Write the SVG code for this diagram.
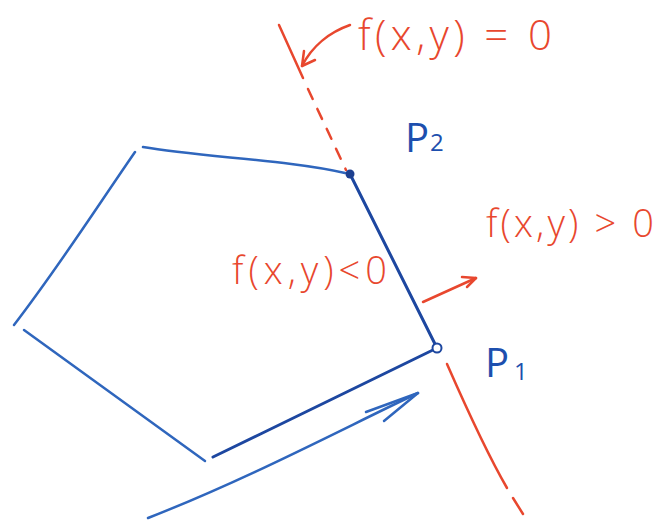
<svg xmlns="http://www.w3.org/2000/svg" width="665" height="520" viewBox="0 0 665 520">
<defs>
<style>
.red{fill:none;stroke:#e8472e;stroke-width:2.5;stroke-linecap:round;stroke-linejoin:round}
.blue{fill:none;stroke:#2f66bd;stroke-width:2.5;stroke-linecap:round;stroke-linejoin:round}
.dblue{fill:none;stroke:#1d47a0;stroke-width:3;stroke-linecap:round;stroke-linejoin:round}
.rt{fill:#e8472e;font-family:"Open Sans","Liberation Sans",sans-serif;font-weight:300}
.bt{fill:#1d4fae;font-family:"Open Sans","Liberation Sans",sans-serif;font-weight:400}
</style>
</defs>
<rect width="665" height="520" fill="#ffffff"/>
<g id="line-f0">
<path class="red" d="M279,25 L303,78" stroke-width="2"/>
<path class="red" d="M308,89 L346,170" stroke-width="2" stroke-dasharray="11,11"/>
<path class="red" d="M447,364 C465,405 485,450 507,488" stroke-width="2"/>
<path class="red" d="M513,498 L523,514" stroke-width="2"/>
</g>
<g id="polygon">
<path class="blue" d="M143,147 C200,157 290,160 345,173"/>
<path class="blue" d="M135,152 C95,210 60,265 14,325"/>
<path class="blue" d="M24,330 L205,461"/>
<path class="dblue" d="M213,457 C290,420 370,380 437,348"/>
<path class="dblue" d="M350,174 L437,348"/>
</g>
<g id="p2">
<circle cx="350" cy="174" r="4.5" fill="#1d3f8f"/>
<text class="bt" x="405" y="152" font-size="40">P</text>
<text class="bt" x="430" y="151" font-size="24">2</text>
</g>
<g id="p1">
<circle cx="437" cy="348" r="4.5" fill="#ffffff" stroke="#1d47a0" stroke-width="2"/>
<text class="bt" x="485" y="377" font-size="40">P</text>
<text class="bt" x="514" y="380" font-size="24">1</text>
</g>
<g id="labels">
<text class="rt" x="358" y="50" font-size="42" textLength="194" lengthAdjust="spacing">f(x,y) = 0</text>
<text class="rt" x="486" y="237" font-size="38" textLength="168" lengthAdjust="spacing">f(x,y) &gt; 0</text>
<text class="rt" x="232" y="284" font-size="38" textLength="155" lengthAdjust="spacing">f(x,y)&lt;0</text>
</g>
<g id="connectors">
<path class="red" d="M350,25 C330,32 312,46 302,66"/>
<path class="red" d="M302,66 L304,51 M302,66 L315,60"/>
<path class="red" d="M423,302 L476,278" stroke-width="3.5"/>
<path class="red" d="M476,278 L462,277 M476,278 L467,287" stroke-width="3.5"/>
<path class="blue" d="M148,518 C250,478 340,430 418,393" stroke-width="2"/>
<path class="blue" d="M418,393 L366,412 M418,393 L384,421" stroke-width="3"/>
</g>
</svg>
